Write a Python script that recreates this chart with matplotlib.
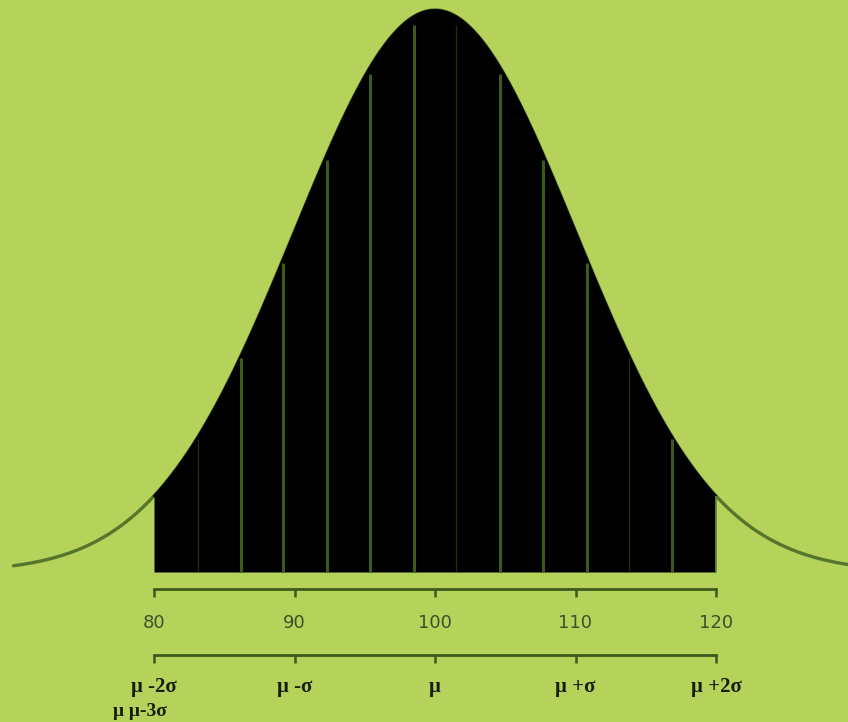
import numpy as np
import matplotlib
matplotlib.use("Agg")
import matplotlib.pyplot as plt

# ---- data ----
mu = 100
sigma = 10
curve_range = [70, 130]
fill_range = [80, 120]
value_ticks = [80, 90, 100, 110, 120]
value_labels = ["80", "90", "100", "110", "120"]
sigma_ticks = [80, 90, 100, 110, 120]
sigma_labels = ["\u03bc -2\u03c3", "\u03bc -\u03c3", "\u03bc", "\u03bc +\u03c3", "\u03bc +2\u03c3"]
extra_label = "\u03bc \u03bc-3\u03c3"
bin_edges = [83.1, 86.2, 89.2, 92.3, 95.4, 98.5, 101.5, 104.6, 107.7, 110.8, 113.8, 116.9]
edge_strength = [0.25, 1, 1, 1, 1, 1, 0.25, 1, 1, 1, 0.25, 1]

BG = "#b5d35b"
DARK = "#3d5a1c"
W, H = 848, 722

fig = plt.figure(figsize=(W / 100, H / 100), dpi=100, facecolor=BG)

def pdf(x):
    return np.exp(-0.5 * ((x - mu) / sigma) ** 2) / (sigma * np.sqrt(2 * np.pi))

peak = pdf(mu)
ppu = 562 / peak  # pixels per density unit
xlo = 80 - 154 / (562 / 40)
xhi = 120 + (W - 716) / (562 / 40)

ax = fig.add_axes([0, 0, 1, 1])
ax.set_facecolor(BG)
ax.set_xlim(xlo, xhi)
ax.set_ylim(-150 / ppu, peak + 10 / ppu)
ax.axis("off")

xs = np.linspace(curve_range[0], curve_range[1], 600)
ax.plot(xs, pdf(xs), color="#55752c", lw=2.4, zorder=2, solid_capstyle="round")
xf = np.linspace(fill_range[0], fill_range[1], 600)
ax.fill_between(xf, 0, pdf(xf), color="black", lw=0, zorder=3)
ax.plot(xf, pdf(xf), color="black", lw=1.5, zorder=3)
for e, s in zip(bin_edges, edge_strength):
    ax.vlines(e, 0, pdf(e) * 0.985, color=DARK, lw=2.2 if s == 1 else 1.0,
              alpha=1.0 if s == 1 else 0.5, zorder=4)
ax.vlines(fill_range[1], 0, pdf(fill_range[1]), color="#6f8f3a", lw=1.2, zorder=4)

left = 154 / W
width = 562 / W

def make_axis(ypix, ticks, labels, pad, **txtkw):
    a = fig.add_axes([left, (H - ypix) / H, width, 0.001])
    a.patch.set_alpha(0)
    a.set_xlim(80, 120)
    for s in ["top", "left", "right"]:
        a.spines[s].set_visible(False)
    a.spines["bottom"].set_color(DARK)
    a.spines["bottom"].set_linewidth(2.0)
    a.set_yticks([])
    a.set_xticks(ticks)
    a.set_xticklabels(labels, **txtkw)
    a.tick_params(axis="x", direction="out", length=6, width=1.8, color=DARK, pad=pad)
    return a

make_axis(589, value_ticks, value_labels, 12, fontsize=13, color="#3f4f2a",
          family="DejaVu Sans")
make_axis(655, sigma_ticks, sigma_labels, 10, fontsize=15, color="#15200a",
          family="Liberation Serif", fontweight="bold")

fig.text(140 / W, 1 - 711 / H, extra_label, ha="center", va="center",
         fontsize=14, color="#15200a", family="Liberation Serif", fontweight="bold")

fig.savefig("out.png", dpi=100, facecolor=BG)
